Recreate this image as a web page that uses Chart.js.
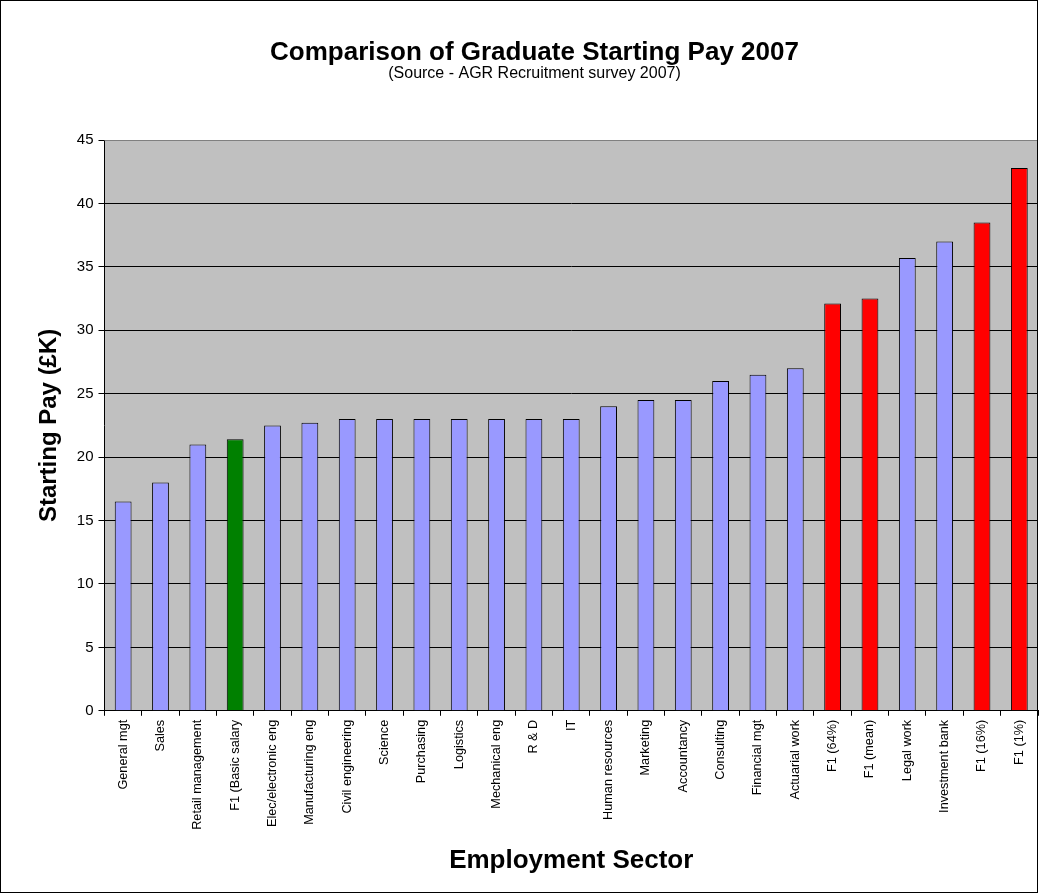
<!DOCTYPE html>
<html>
<head>
<meta charset="utf-8">
<script src="https://cdn.jsdelivr.net/npm/chart.js@4"></script>
<style>
  html, body { margin: 0; padding: 0; background: #fff; }
  #wrap { width: 1040px; height: 895px; }
</style>
</head>
<body>
<div id="wrap"><canvas id="pay"></canvas></div>
<script>
// Starting pay per sector, £K
const sectors = [
  'General mgt', 'Sales', 'Retail management', 'F1 (Basic salary',
  'Elec/electronic eng', 'Manufacturing eng', 'Civil engineering', 'Science',
  'Purchasing', 'Logistics', 'Mechanical eng', 'R & D', 'IT',
  'Human resources', 'Marketing', 'Accountancy', 'Consulting', 'Financial mgt',
  'Actuarial work', 'F1 (64%)', 'F1 (mean)', 'Legal work', 'Investment bank',
  'F1 (16%)', 'F1 (1%)'
];
const pay = [
  16.5, 18, 21, 21.4,
  22.5, 22.7, 23, 23,
  23, 23, 23, 23, 23,
  24, 24.5, 24.5, 26, 26.5,
  27, 32.1, 32.5, 35.7, 37,
  38.5, 42.8
];
// which bars are F1 figures: 'basic' = basic salary, 'f1' = F1 percentile/mean
const f1Kind = [
  '', '', '', 'basic',
  '', '', '', '',
  '', '', '', '', '',
  '', '', '', '', '',
  '', 'f1', 'f1', '', '',
  'f1', 'f1'
];
const yTicks = [0, 5, 10, 15, 20, 25, 30, 35, 40, 45];

const kindColour = { '': '#9999FF', basic: '#008000', f1: '#FF0000' };
const font = 'Liberation Sans, Arial, sans-serif';

// grey plot area, grey top/right border and outer frame
const plotBg = {
  id: 'plotBg',
  beforeDraw(chart) {
    const { ctx, chartArea: a } = chart;
    ctx.save();
    ctx.fillStyle = '#C0C0C0';
    ctx.fillRect(a.left, a.top, a.right - a.left, a.bottom - a.top);
    ctx.restore();
  },
  afterDraw(chart) {
    const { ctx, chartArea: a } = chart;
    ctx.save();
    ctx.strokeStyle = '#808080';
    ctx.lineWidth = 1;
    ctx.beginPath();
    ctx.moveTo(a.left, a.top + 0.5);
    ctx.lineTo(a.right - 0.5, a.top + 0.5);
    ctx.lineTo(a.right - 0.5, a.bottom);
    ctx.stroke();
    ctx.strokeStyle = '#000';
    ctx.strokeRect(0.5, 0.5, chart.width - 3, chart.height - 3);
    ctx.restore();
  }
};

Chart.defaults.font.family = font;
Chart.defaults.color = '#000';

new Chart(document.getElementById('pay'), {
  type: 'bar',
  data: {
    labels: sectors,
    datasets: [{
      data: pay,
      backgroundColor: f1Kind.map(k => kindColour[k]),
      borderColor: '#000',
      borderWidth: 1,
      barPercentage: 0.45,
      categoryPercentage: 1
    }]
  },
  options: {
    responsive: true,
    maintainAspectRatio: false,
    animation: false,
    layout: { padding: { left: 31, right: 2, top: 33, bottom: 15 } },
    plugins: {
      legend: { display: false },
      tooltip: { enabled: false },
      title: {
        display: true,
        text: 'Comparison of Graduate Starting Pay 2007',
        font: { size: 26, weight: 'bold', lineHeight: 1 },
        padding: { top: 7, bottom: 0 }
      },
      subtitle: {
        display: true,
        text: '(Source - AGR Recruitment survey 2007)',
        font: { size: 16, lineHeight: 1 },
        padding: { top: 0, bottom: 58 }
      }
    },
    scales: {
      x: {
        offset: true,
        grid: {
          offset: true,
          drawOnChartArea: false,
          drawTicks: true,
          tickLength: 5,
          color: '#000'
        },
        border: { color: '#000', width: 1 },
        ticks: {
          autoSkip: false,
          maxRotation: 90,
          minRotation: 90,
          padding: 4,
          font: { size: 12.7 }
        },
        title: {
          display: true,
          text: 'Employment Sector',
          font: { size: 26, weight: 'bold' },
          padding: { top: 11, bottom: 4 }
        }
      },
      y: {
        min: 0,
        max: 45,
        afterBuildTicks(axis) { axis.ticks = yTicks.map(v => ({ value: v })); },
        grid: { color: '#000', tickLength: 6 },
        border: { color: '#000', width: 1 },
        ticks: { font: { size: 15 }, padding: 5 },
        title: {
          display: true,
          text: 'Starting Pay (£K)',
          font: { size: 24, weight: 'bold' },
          padding: { bottom: 8 }
        }
      }
    }
  },
  plugins: [plotBg]
});
</script>
</body>
</html>
